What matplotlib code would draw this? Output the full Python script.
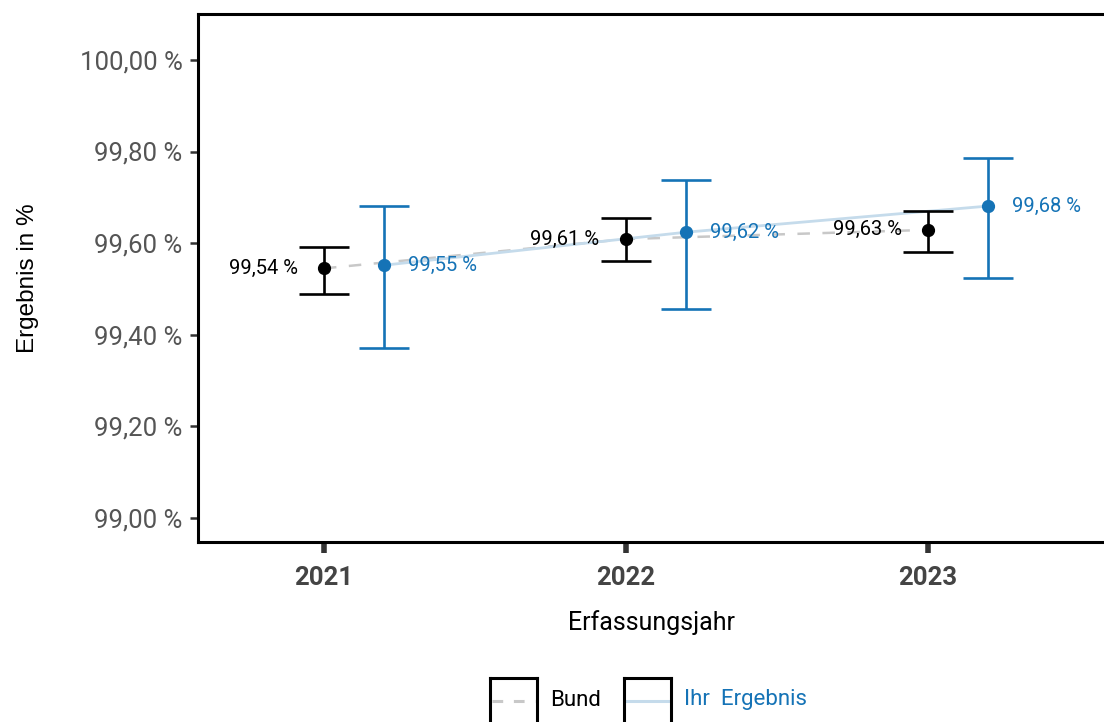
import numpy as np
import matplotlib
matplotlib.use("Agg")
import matplotlib.pyplot as plt

# data
years = [2021, 2022, 2023]
bund_values = [99.545, 99.609, 99.629]
bund_lower = [99.490, 99.560, 99.580]
bund_upper = [99.592, 99.655, 99.670]
ihr_values = [99.552, 99.624, 99.681]
ihr_lower = [99.371, 99.456, 99.524]
ihr_upper = [99.681, 99.738, 99.786]
bund_labels = ["99,54 %", "99,61 %", "99,63 %"]
ihr_labels = ["99,55 %", "99,62 %", "99,68 %"]
y_ticks = [99.0, 99.2, 99.4, 99.6, 99.8, 100.0]
y_tick_labels = ["99,00 %", "99,20 %", "99,40 %", "99,60 %", "99,80 %", "100,00 %"]

BLUE = "#1573b6"
LIGHT_BLUE = "#c5dbeb"
GREY_DASH = "#c8c8c8"
TICK_GREY = "#555555"

plt.rcParams["font.family"] = ["Roboto", "DejaVu Sans"]

W, H = 1104, 722
fig = plt.figure(figsize=(W / 100, H / 100), dpi=100)
ax = fig.add_axes([198 / W, 1 - 542 / H, 1 - 198 / W, (542 - 14) / H])

x_bund = np.array(years, dtype=float)
x_ihr = x_bund + 0.2
bund = np.array(bund_values)
ihr = np.array(ihr_values)

# connecting lines
ax.plot(x_bund, bund, color=GREY_DASH, lw=1.8, ls=(0, (5, 5)), zorder=1)
ax.plot(x_ihr, ihr, color=LIGHT_BLUE, lw=2.0, zorder=1)

# error bars
ax.errorbar(x_bund, bund,
            yerr=[bund - np.array(bund_lower), np.array(bund_upper) - bund],
            fmt="o", color="black", ms=8.5, elinewidth=1.9,
            capsize=18, capthick=1.9, zorder=3)
ax.errorbar(x_ihr, ihr,
            yerr=[ihr - np.array(ihr_lower), np.array(ihr_upper) - ihr],
            fmt="o", color=BLUE, ms=8.5, elinewidth=1.9,
            capsize=18, capthick=1.9, zorder=3)

for x, y, t in zip(x_bund, bund, bund_labels):
    ax.annotate(t, (x, y), xytext=(-19, 0), textcoords="offset points",
                ha="right", va="center", fontsize=14.5, color="black")
for x, y, t in zip(x_ihr, ihr, ihr_labels):
    ax.annotate(t, (x, y), xytext=(17, 0), textcoords="offset points",
                ha="left", va="center", fontsize=14.5, color=BLUE)

ax.set_xlim(2020.583, 2023.583)
ax.set_ylim(98.948, 100.1)
ax.set_yticks(y_ticks)
ax.set_yticklabels(y_tick_labels, fontsize=18.5, color=TICK_GREY)
ax.set_xticks(years)
ax.set_xticklabels([str(y) for y in years], fontsize=18.5,
                   fontweight="bold", color="#444444")
ax.tick_params(axis="y", length=6, width=1.8, color="#333333", pad=5)
ax.tick_params(axis="x", length=8, width=4, color="#333333", pad=9)

for s in ["left", "top", "bottom"]:
    ax.spines[s].set_linewidth(2.2)
    ax.spines[s].set_color("black")
ax.spines["right"].set_visible(False)

ax.set_xlabel("Erfassungsjahr", fontsize=18, labelpad=15)
ax.set_ylabel("Ergebnis in %", fontsize=17.5,
              family=["Liberation Sans", "DejaVu Sans"])
ax.yaxis.set_label_coords((39 - 198) / (W - 198), 0.5)

# legend keys drawn as framed boxes (cut off at the bottom)
key_top, key_bottom = 678, 732
for x0, style, col, label, tcol in [
        (490, (0, (3.5, 3.5)), GREY_DASH, "Bund", "black"),
        (624, "-", LIGHT_BLUE, "Ihr  Ergebnis", BLUE)]:
    kax = fig.add_axes([x0 / W, (H - key_bottom) / H, 47 / W,
                        (key_bottom - key_top) / H])
    ly = (key_bottom - 701) / (key_bottom - key_top)
    kax.plot([0.05, 0.95], [ly, ly], color=col, lw=2.2, ls=style)
    kax.set_xlim(0, 1)
    kax.set_ylim(0, 1)
    kax.set_xticks([])
    kax.set_yticks([])
    for s in kax.spines.values():
        s.set_linewidth(2.2)
        s.set_color("black")
    fig.text((x0 + 60) / W, 1 - 700 / H, label, fontsize=16, color=tcol,
             va="center", ha="left")

fig.savefig("out.png", dpi=100)
